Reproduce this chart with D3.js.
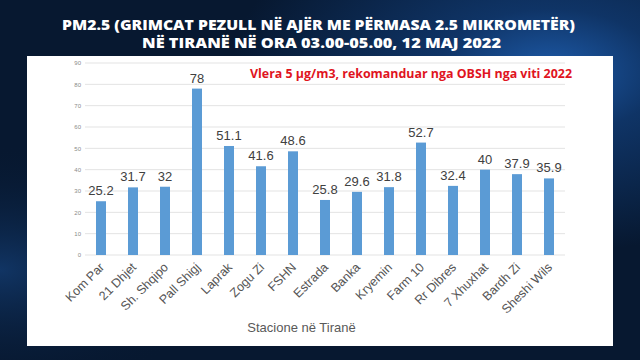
<!DOCTYPE html>
<html><head><meta charset="utf-8">
<script src="https://cdn.jsdelivr.net/npm/d3@7"></script>
<style>html,body{margin:0;padding:0;background:#071830;}svg{display:block;}</style>
</head><body><svg id="c" width="640" height="360"></svg>
<script>
const categories = ["Kom Par","21 Dhjet","Sh. Shqipo","Pall Shigj","Laprak","Zogu Zi","FSHN","Estrada","Banka","Kryemin","Farm 10","Rr Dibres","7 Xhuxhat","Bardh Zi","Sheshi Wils"];
const values = [25.2,31.7,32,78,51.1,41.6,48.6,25.8,29.6,31.8,52.7,32.4,40,37.9,35.9];
const yTicks = [0,10,20,30,40,50,60,70,80,90];
const titleLines = ["PM2.5 (GRIMCAT PEZULL NË AJËR ME PËRMASA 2.5 MIKROMETËR)","NË TIRANË NË ORA 03.00-05.00, 12 MAJ 2022"];
const note = "Vlera 5 µg/m3, rekomanduar nga OBSH nga viti 2022";
const xTitle = "Stacione në Tiranë";

const svg = d3.select("#c");
const defs = svg.append("defs");
const rg = defs.append("radialGradient").attr("id","glow").attr("cx","0.86").attr("cy","0.2").attr("r","0.5");
rg.append("stop").attr("offset","0").attr("stop-color","#1d5aa8");
rg.append("stop").attr("offset","0.35").attr("stop-color","#0f3466");
rg.append("stop").attr("offset","1").attr("stop-color","#071830");
const rg2 = defs.append("radialGradient").attr("id","glow2").attr("cx","0").attr("cy","0.75").attr("r","0.35");
rg2.append("stop").attr("offset","0").attr("stop-color","#12386a").attr("stop-opacity",0.9);
rg2.append("stop").attr("offset","1").attr("stop-color","#071830").attr("stop-opacity",0);

svg.append("rect").attr("width",640).attr("height",360).attr("fill","url(#glow)");
svg.append("rect").attr("width",640).attr("height",360).attr("fill","url(#glow2)");

// title
const tFont = "'Open Sans', Lato, sans-serif";
svg.append("text").attr("x",318.5).attr("y",29.5).attr("text-anchor","middle")
  .attr("font-family",tFont).attr("font-weight",800).attr("font-size",14.5).attr("fill","#fff")
  .attr("textLength",513).attr("lengthAdjust","spacingAndGlyphs").text(titleLines[0]);
svg.append("text").attr("x",321.5).attr("y",47.5).attr("text-anchor","middle")
  .attr("font-family",tFont).attr("font-weight",800).attr("font-size",14.5).attr("fill","#fff")
  .attr("textLength",359).attr("lengthAdjust","spacingAndGlyphs").text(titleLines[1]);

// panel
svg.append("rect").attr("x",27).attr("y",56).attr("width",586).attr("height",290).attr("fill","#fff");

const x = d3.scaleBand().domain(categories).range([85,565]).paddingInner(0.6875).paddingOuter(0.34375);
const y = d3.scaleLinear().domain([0,90]).range([255,63]);

// grid
svg.append("g").selectAll("line").data(yTicks).join("line")
  .attr("x1",85).attr("x2",565).attr("y1",d=>y(d)).attr("y2",d=>y(d))
  .attr("stroke","#e3e3e3").attr("stroke-width",1);

// y axis
const ya = svg.append("g").attr("transform","translate(81,0)")
  .call(d3.axisLeft(y).tickValues(yTicks).tickSize(0).tickPadding(0));
ya.select(".domain").remove();
ya.selectAll("text").attr("font-family","Liberation Sans, Arial, sans-serif").attr("font-size",6).attr("fill","#8a8a8a");

// bars
svg.append("g").selectAll("rect").data(values).join("rect")
  .attr("x",(d,i)=>x(categories[i])).attr("width",x.bandwidth())
  .attr("y",d=>y(d)).attr("height",d=>y(0)-y(d)).attr("fill","#5b9bd5");

// value labels
svg.append("g").selectAll("text").data(values).join("text")
  .attr("x",(d,i)=>x(categories[i])+x.bandwidth()/2).attr("y",d=>y(d)-6)
  .attr("text-anchor","middle").attr("font-family","Liberation Sans, Arial, sans-serif")
  .attr("font-size",13).attr("fill","#404040").text(d=>d);

// x axis labels
const xa = svg.append("g").attr("transform","translate(0,255)")
  .call(d3.axisBottom(x).tickSize(0).tickPadding(0));
xa.select(".domain").remove();
xa.selectAll("text").attr("font-family","Liberation Sans, Arial, sans-serif").attr("font-size",12.5).attr("fill","#555")
  .attr("text-anchor","end").attr("dy",null).attr("y",null)
  .attr("transform","translate(4,13) rotate(-45)");

// x title
svg.append("text").attr("x",301.5).attr("y",332).attr("text-anchor","middle")
  .attr("font-family","Liberation Sans, Arial, sans-serif").attr("font-size",13).attr("fill","#595959").text(xTitle);

// note
svg.append("text").attr("x",250).attr("y",78).attr("font-family",tFont).attr("font-weight",700)
  .attr("font-size",11.5).attr("fill","#e0141e").attr("textLength",322).attr("lengthAdjust","spacingAndGlyphs").text(note);
</script></body></html>
